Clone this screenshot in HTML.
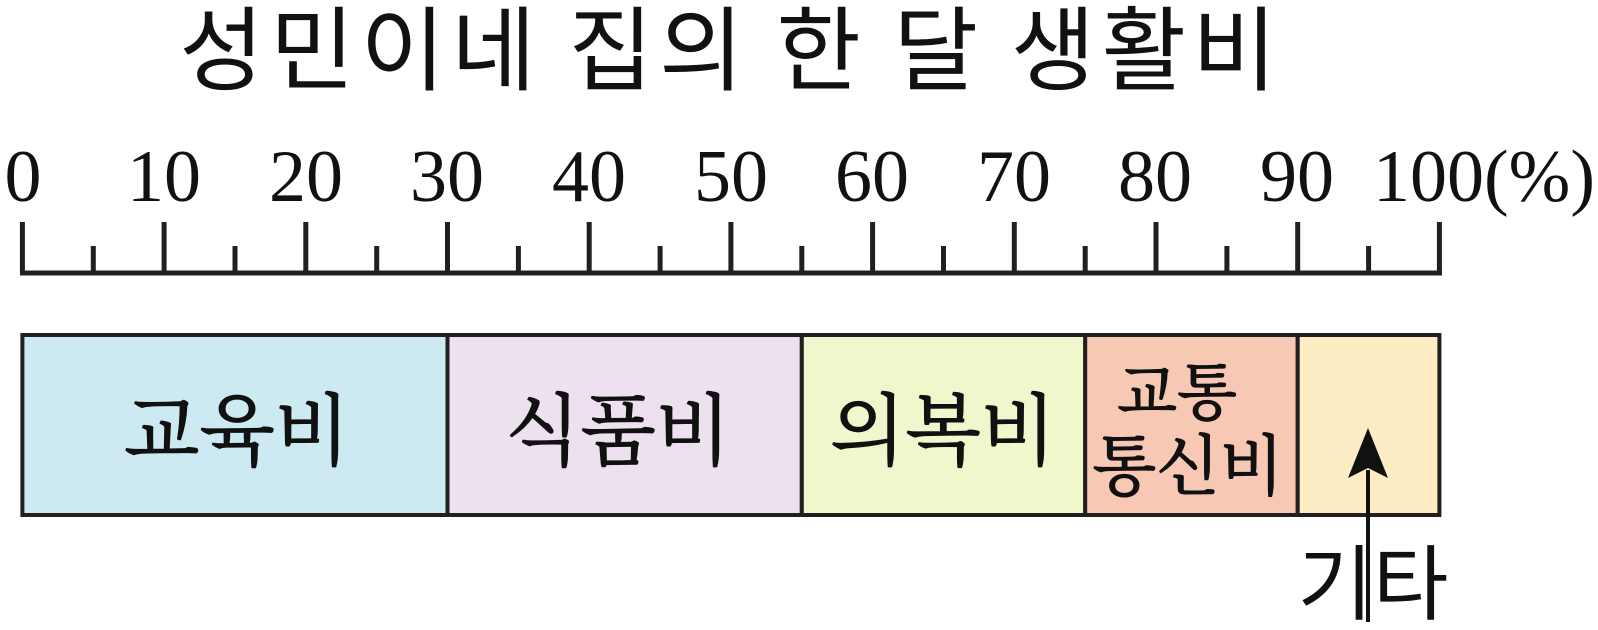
<!DOCTYPE html>
<html><head><meta charset="utf-8"><style>
html,body{margin:0;padding:0;background:#fff;}
svg{display:block}
</style></head><body>
<svg width="1598" height="630" viewBox="0 0 1598 630" xmlns="http://www.w3.org/2000/svg">
<text x="731" y="83" text-anchor="middle" font-family="'Noto Sans CJK KR','NanumGothic',sans-serif" font-size="92" fill="#111" letter-spacing="6">성민이네 집의 한 달 생활비</text>
<g font-family="'Liberation Serif',serif" font-size="74" fill="#111" text-anchor="middle">
<text x="23" y="201">0</text><text x="164" y="201">10</text><text x="306" y="201">20</text><text x="447" y="201">30</text><text x="589" y="201">40</text><text x="731" y="201">50</text><text x="872" y="201">60</text><text x="1014" y="201">70</text><text x="1155" y="201">80</text><text x="1297" y="201">90</text><text x="1484" y="201">100(%)</text>
</g>
<g stroke="#231f20" stroke-width="5" fill="none">
<line x1="20" y1="273" x2="1442" y2="273"/>
<path d="M22.4 222V273M164.1 222V273M305.8 222V273M447.5 222V273M589.2 222V273M730.9 222V273M872.6 222V273M1014.3 222V273M1156 222V273M1297.7 222V273M1439.4 222V273"/>
<path d="M93.3 246V273M235 246V273M376.7 246V273M518.4 246V273M660.1 246V273M801.8 246V273M943.5 246V273M1085.2 246V273M1226.9 246V273M1368.6 246V273"/>
</g>
<g stroke="#231f20" stroke-width="4">
<rect x="22.4" y="335" width="425.1" height="180" fill="#cdeaf2"/>
<rect x="447.5" y="335" width="354.3" height="180" fill="#ede0ef"/>
<rect x="801.8" y="335" width="283.4" height="180" fill="#f0f7cd"/>
<rect x="1085.2" y="335" width="212.5" height="180" fill="#f7c9b4"/>
<rect x="1297.7" y="335" width="141.7" height="180" fill="#fdecc4"/>
</g>
<g font-family="'Noto Serif CJK SC','Noto Sans CJK KR',serif" font-size="78" fill="#111" stroke="#111" stroke-width="1.2" text-anchor="middle">
<text x="237" y="458">교육비</text>
<text x="618" y="458">식품비</text>
<text x="943" y="458">의복비</text>
<text x="1177" y="414" font-size="62">교통</text>
<text x="1188" y="489" font-size="66">통신비</text>
</g>
<line x1="1368" y1="470" x2="1368" y2="622" stroke="#111" stroke-width="4"/>
<polygon points="1368,428 1348,478 1368,468 1388,478" fill="#111"/>
<text x="1373" y="613" text-anchor="middle" font-family="'Noto Sans CJK KR','NanumGothic',sans-serif" font-size="82" fill="#111">기타</text>
</svg>
</body></html>
